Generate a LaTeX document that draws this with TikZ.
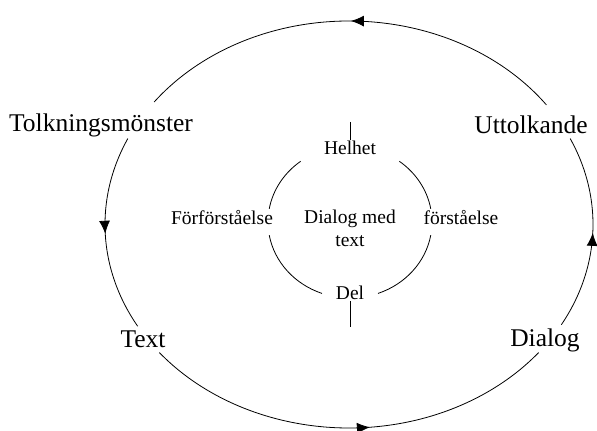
\documentclass[tikz,border=0pt]{standalone}
\usepackage{fontspec}
\setmainfont{Liberation Serif}
\usetikzlibrary{positioning,arrows.meta,decorations.markings}
\tikzset{
  ring/.style={line width=0.8pt},
  flowring/.style={line width=0.8pt, postaction=decorate,
    decoration={markings, mark=at position #1 with {\arrow{Latex[length=13pt,width=11pt]}}}},
  outerlabel/.style={font=\fontsize{25.5}{30}\selectfont, inner sep=1pt},
  innerlabel/.style={font=\fontsize{19.5}{23}\selectfont, inner sep=1pt, align=center},
  tick/.style={line width=0.9pt}
}

\begin{document}
\begin{tikzpicture}[x=1pt, y=1pt]
  \useasboundingbox (0,0) rectangle (597,431);
  \coordinate (outerc) at (349,206.5);
  \coordinate (innerc) at (350,209);

  % outer cycle
  \draw[flowring=0.5] (outerc) ++(36:244 and 203.5) arc[start angle=36, end angle=143, x radius=244, y radius=203.5];
  \draw[flowring=0.5] (outerc) ++(155:244 and 203.5) arc[start angle=155, end angle=210, x radius=244, y radius=203.5];
  \draw[flowring=0.55] (outerc) ++(219:244 and 203.5) arc[start angle=219, end angle=321, x radius=244, y radius=203.5];
  \draw[flowring=0.5] (outerc) ++(-29.5:244 and 203.5) arc[start angle=-29.5, end angle=25, x radius=244, y radius=203.5];

  \node[outerlabel] (tolk) at (101,306) {Tolkningsmönster};
  \node[outerlabel] (utt) at (531,306) {Uttolkande};
  \node[outerlabel] (text) at (143,92) {Text};
  \node[outerlabel] (dialog) at (545,91) {Dialog};

  % inner cycle
  \draw[ring] (innerc) ++(10:82 and 76) arc[start angle=10, end angle=53, x radius=82, y radius=76];
  \draw[ring] (innerc) ++(127:82 and 76) arc[start angle=127, end angle=170, x radius=82, y radius=76];
  \draw[ring] (innerc) ++(190:82 and 76) arc[start angle=190, end angle=250, x radius=82, y radius=76];
  \draw[ring] (innerc) ++(290:82 and 76) arc[start angle=290, end angle=350, x radius=82, y radius=76];

  \node[innerlabel] (helhet) at (350,283) {Helhet};
  \node[innerlabel] (del) at (350,138) {Del};
  \node[innerlabel] (forfor) at (222,213) {Förförståelse};
  \node[innerlabel] (forst) at (461,213) {förståelse};
  \node[innerlabel] (mitt) at (350,203) {Dialog med\\text};

  \coordinate (toptick) at (350,309);
  \coordinate (bottick) at (350,104);
  \draw[tick] (toptick) -- (helhet);
  \draw[tick] (del) -- (bottick);
\end{tikzpicture}
\end{document}
